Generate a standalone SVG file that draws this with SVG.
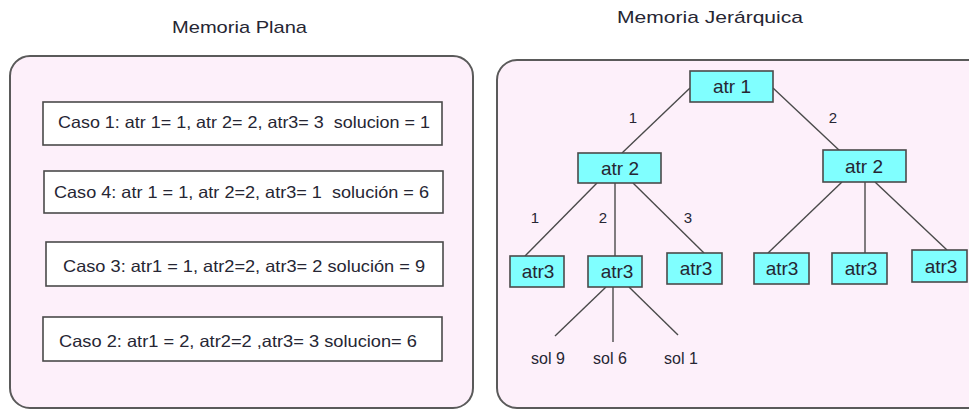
<svg xmlns="http://www.w3.org/2000/svg" width="969" height="410" viewBox="0 0 969 410">
  <style>
    .panel { fill: #fdf0fa; stroke: #5a5a5a; stroke-width: 2; }
    .case { fill: #ffffff; stroke: #4a4a4a; stroke-width: 1.6; }
    .node { fill: #80ffff; stroke: #4a4a4a; stroke-width: 1.6; }
    .edge { stroke: #4a4a4a; stroke-width: 1.4; fill: none; }
    text { font-family: "Liberation Sans", Arial, sans-serif; fill: #262633; }
    .title { font-size: 17px; }
    .casetxt { font-size: 16.5px; }
    .ntxt { font-size: 19px; text-anchor: middle; }
    .lbl { font-size: 15px; text-anchor: middle; }
    .sol { font-size: 16px; text-anchor: middle; }
  </style>

  <rect width="969" height="410" fill="#ffffff"/>

  <!-- Flat memory panel -->
  <g id="memoria-plana">
    <text class="title" x="172" y="33" textLength="135" lengthAdjust="spacingAndGlyphs">Memoria Plana</text>
    <rect class="panel" x="10" y="56" width="463" height="352" rx="20"/>
    <g id="caso1">
      <rect class="case" x="43" y="102" width="399" height="43"/>
      <text class="casetxt" x="58" y="128" textLength="372" lengthAdjust="spacingAndGlyphs">Caso 1: atr 1= 1, atr 2= 2, atr3= 3&#160; solucion = 1</text>
    </g>
    <g id="caso4">
      <rect class="case" x="44" y="171" width="399" height="42"/>
      <text class="casetxt" x="54" y="198" textLength="375" lengthAdjust="spacingAndGlyphs">Caso 4: atr 1 = 1, atr 2=2, atr3= 1&#160; solución = 6</text>
    </g>
    <g id="caso3">
      <rect class="case" x="46" y="242" width="397" height="44"/>
      <text class="casetxt" x="63" y="272" textLength="362" lengthAdjust="spacingAndGlyphs">Caso 3: atr1 = 1, atr2=2, atr3= 2 solución = 9</text>
    </g>
    <g id="caso2">
      <rect class="case" x="43" y="317" width="399" height="44"/>
      <text class="casetxt" x="59" y="347" textLength="358" lengthAdjust="spacingAndGlyphs">Caso 2: atr1 = 2, atr2=2 ,atr3= 3 solucion= 6</text>
    </g>
  </g>

  <!-- Hierarchical memory panel -->
  <g id="memoria-jerarquica">
    <text class="title" x="617" y="23" textLength="186" lengthAdjust="spacingAndGlyphs">Memoria Jerárquica</text>
    <rect class="panel" x="497" y="60" width="490" height="348" rx="20"/>
  </g>

  <!-- Tree connectors -->
  <g id="connectors">
    <line class="edge" x1="690" y1="88" x2="622" y2="153"/>
    <line class="edge" x1="773" y1="88" x2="840" y2="151"/>
    <line class="edge" x1="597" y1="183" x2="525" y2="256"/>
    <line class="edge" x1="615" y1="183" x2="615" y2="256"/>
    <line class="edge" x1="633" y1="183" x2="704" y2="253"/>
    <line class="edge" x1="842" y1="182" x2="768" y2="253"/>
    <line class="edge" x1="865" y1="182" x2="865" y2="253"/>
    <line class="edge" x1="875" y1="182" x2="947" y2="250"/>
    <line class="edge" x1="606" y1="287" x2="555" y2="336"/>
    <line class="edge" x1="613" y1="287" x2="613" y2="342"/>
    <line class="edge" x1="629" y1="287" x2="678" y2="335"/>
    <text class="lbl" x="633" y="123">1</text>
    <text class="lbl" x="833" y="123">2</text>
    <text class="lbl" x="535" y="223">1</text>
    <text class="lbl" x="603" y="223">2</text>
    <text class="lbl" x="688" y="223">3</text>
  </g>

  <g id="atr1">
    <rect class="node" x="690" y="71" width="83" height="31"/>
    <text class="ntxt" x="732" y="93">atr 1</text>
  </g>
  <g id="atr2-a">
    <rect class="node" x="578" y="153" width="83" height="30"/>
    <text class="ntxt" x="620" y="175">atr 2</text>
  </g>
  <g id="atr2-b">
    <rect class="node" x="823" y="150" width="83" height="32"/>
    <text class="ntxt" x="864" y="173">atr 2</text>
  </g>
  <g id="atr3-a">
    <rect class="node" x="510" y="256" width="54" height="31"/>
    <text class="ntxt" x="538" y="278">atr3</text>
  </g>
  <g id="atr3-b">
    <rect class="node" x="588" y="256" width="54" height="31"/>
    <text class="ntxt" x="617" y="278">atr3</text>
  </g>
  <g id="atr3-c">
    <rect class="node" x="667" y="253" width="55" height="31"/>
    <text class="ntxt" x="696" y="275">atr3</text>
  </g>
  <g id="atr3-d">
    <rect class="node" x="754" y="253" width="55" height="31"/>
    <text class="ntxt" x="782" y="275">atr3</text>
  </g>
  <g id="atr3-e">
    <rect class="node" x="832" y="253" width="55" height="31"/>
    <text class="ntxt" x="861" y="275">atr3</text>
  </g>
  <g id="atr3-f">
    <rect class="node" x="912" y="250" width="55" height="32"/>
    <text class="ntxt" x="941" y="273">atr3</text>
  </g>

  <g id="soluciones">
    <text class="sol" x="548" y="364">sol 9</text>
    <text class="sol" x="610" y="364">sol 6</text>
    <text class="sol" x="681" y="364">sol 1</text>
  </g>
</svg>
